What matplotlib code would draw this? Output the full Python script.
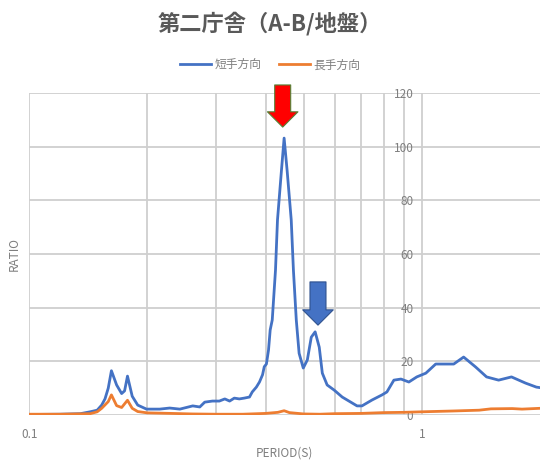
import matplotlib
matplotlib.use("Agg")
import matplotlib.pyplot as plt
from matplotlib.ticker import FixedLocator, NullFormatter

plt.rcParams['font.family'] = ['Noto Sans CJK JP', 'DejaVu Sans']

# 周期(s) と 応答倍率
period_short = [0.100, 0.120, 0.135, 0.143, 0.149, 0.153, 0.156, 0.159, 0.162, 0.167,
                0.172, 0.175, 0.178, 0.183, 0.189, 0.199, 0.215, 0.228, 0.242, 0.261,
                0.272, 0.280, 0.293, 0.305, 0.315, 0.324, 0.333, 0.343, 0.353, 0.364,
                0.370, 0.379, 0.386, 0.393, 0.397, 0.402, 0.407, 0.411, 0.416, 0.424,
                0.429, 0.439, 0.446, 0.454, 0.465, 0.471, 0.479, 0.487, 0.499, 0.511,
                0.523, 0.535, 0.548, 0.558, 0.574, 0.598, 0.627, 0.684, 0.704, 0.747,
                0.792, 0.815, 0.849, 0.885, 0.927, 0.971, 1.024, 1.085, 1.206, 1.278,
                1.371, 1.462, 1.569, 1.692, 1.837, 1.958, 2.000]
ratio_short = [0.2, 0.3, 0.5, 1.2, 1.8, 3.7, 6.0, 10.0, 16.5, 11.2,
               8.0, 9.0, 14.5, 7.0, 3.7, 2.2, 2.2, 2.6, 2.2, 3.4,
               3.0, 4.8, 5.2, 5.2, 6.0, 5.2, 6.3, 6.0, 6.3, 6.7,
               8.6, 10.4, 12.3, 15.0, 18.0, 19.0, 24.2, 31.7, 35.4, 54.0,
               72.7, 91.0, 103.2, 91.0, 72.7, 54.0, 35.4, 23.0, 17.5, 20.5,
               29.0, 31.0, 25.3, 15.6, 11.2, 9.3, 6.7, 3.4, 3.4, 5.6,
               7.5, 8.6, 13.0, 13.4, 12.3, 14.2, 15.6, 19.0, 19.0, 21.6,
               17.9, 14.2, 13.0, 14.2, 11.9, 10.4, 10.2]

period_long = [0.100, 0.120, 0.143, 0.149, 0.153, 0.159, 0.162, 0.167, 0.172, 0.178,
               0.183, 0.189, 0.200, 0.230, 0.260, 0.300, 0.350, 0.400, 0.430, 0.446,
               0.460, 0.500, 0.550, 0.600, 0.700, 0.800, 0.900, 1.000, 1.200, 1.400,
               1.500, 1.700, 1.800, 2.000]
ratio_long = [0.3, 0.3, 0.5, 1.2, 2.5, 5.0, 7.5, 3.5, 2.8, 5.5,
              2.5, 1.3, 0.8, 0.6, 0.4, 0.3, 0.3, 0.6, 1.0, 1.6,
              0.9, 0.4, 0.3, 0.5, 0.6, 0.9, 1.0, 1.2, 1.5, 1.8,
              2.3, 2.4, 2.2, 2.5]

labels = ['短手方向', '長手方向']
colors = ['#4472C4', '#ED7D31']
x_major = [0.1, 1]
x_minor = [0.2, 0.3, 0.4, 0.5, 0.6, 0.7, 0.8, 0.9]
y_ticks = [0, 20, 40, 60, 80, 100, 120]

# 矢印 (先端の周期, 先端の倍率, 根元の倍率)
red_arrow = (0.4423, 107.3, 123.0)
blue_arrow = (0.544, 33.5, 49.6)

fig = plt.figure(figsize=(5.4, 4.66), dpi=100)
ax = fig.add_axes([0.054, 0.1094, 0.946, 0.691])

ax.plot(period_short, ratio_short, color=colors[0], lw=2.0, label=labels[0], zorder=3)
ax.plot(period_long, ratio_long, color=colors[1], lw=2.0, label=labels[1], zorder=3)

ax.set_xscale('log')
ax.set_xlim(0.1, 2.0)
ax.set_ylim(0, 120)
ax.xaxis.set_major_locator(FixedLocator(x_major))
ax.set_xticklabels(['0.1', '1'])
ax.xaxis.set_minor_locator(FixedLocator(x_minor))
ax.xaxis.set_minor_formatter(NullFormatter())
ax.set_yticks(y_ticks)

for s in ['top', 'right', 'bottom']:
    ax.spines[s].set_visible(False)
ax.spines['left'].set_position(('data', 1))
ax.spines['left'].set_color('none')

ax.tick_params(axis='both', which='both', length=0, labelsize=8.5, labelcolor='#7f7f7f')
ax.tick_params(axis='x', pad=9)
ax.tick_params(axis='y', pad=6)

ax.grid(True, which='major', color='#cfcfcf', lw=1.3)
ax.grid(True, which='minor', axis='x', color='#cfcfcf', lw=1.3)
ax.set_axisbelow(True)

ax.set_xlabel('PERIOD(S)', fontsize=8.5, color='#7f7f7f', labelpad=4)
ax.set_ylabel('RATIO', fontsize=8.5, color='#7f7f7f', labelpad=0)
ax.yaxis.set_label_coords(-0.017, 0.5)

fig.suptitle('第二庁舎（A-B/地盤）', x=0.5, y=0.975, fontsize=16, fontweight='bold',
             color='#595959')
fig.legend(loc='center', bbox_to_anchor=(0.5, 0.861), ncol=2, frameon=False,
           fontsize=8.5, handlelength=2.6, columnspacing=1.5, handletextpad=0.3,
           labelcolor='#7f7f7f')

for (xa, tip, tail), fc, ec in [(red_arrow, '#FF0000', '#548235'),
                                 (blue_arrow, '#4472C4', '#2F528F')]:
    ax.annotate('', xy=(xa, tip), xytext=(xa, tail), annotation_clip=False,
                arrowprops=dict(arrowstyle='simple,head_length=1.1,head_width=2.2,tail_width=1.15',
                                mutation_scale=10, fc=fc, ec=ec, lw=0.8,
                                shrinkA=0, shrinkB=0), zorder=5)

fig.savefig('out.png', dpi=100)
